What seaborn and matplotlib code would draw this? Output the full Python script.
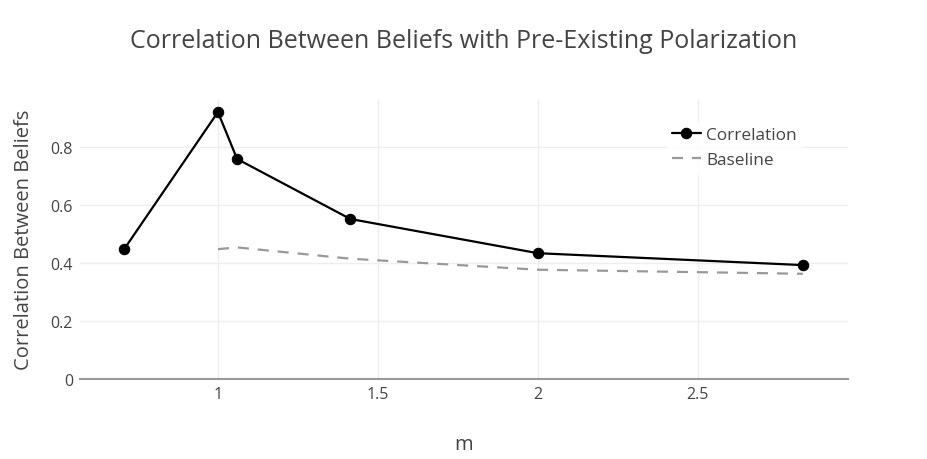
import numpy as np
import pandas as pd
import matplotlib
matplotlib.use('Agg')
import matplotlib.pyplot as plt
import seaborn as sns

# 값들 (그림에서 읽어낸 추정치)
m_corr = [0.707, 1.0, 1.06, 1.414, 2.0, 2.828]
corr = [0.448, 0.921, 0.759, 0.552, 0.434, 0.393]
m_base = [1.0, 1.06, 1.414, 2.0, 2.828]
base = [0.448, 0.454, 0.415, 0.377, 0.363]

corrdf = pd.DataFrame({'m': m_corr, 'value': corr})
basedf = pd.DataFrame({'m': m_base, 'value': base})

sns.set_style('white')
plt.rcParams['font.family'] = ['Open Sans', 'DejaVu Sans']
txt = '#444444'

fig = plt.figure(figsize=(9.28, 4.6), dpi=100)
ax = fig.add_axes([80/928, 80/460, 768/928, 280/460])

sns.lineplot(data=corrdf, x='m', y='value', ax=ax, color='black', lw=1.6,
             marker='o', markersize=7.5, markeredgecolor='black', label='Correlation')
sns.lineplot(data=basedf, x='m', y='value', ax=ax, color='#999999', lw=1.6,
             dashes=False, linestyle=(0, (5, 4)), label='Baseline')

ax.set_xlim(0.569, 2.969)
ax.set_ylim(0, 0.966)
ax.set_xticks([1, 1.5, 2, 2.5])
ax.set_xticklabels(['1', '1.5', '2', '2.5'])
ax.set_yticks([0, 0.2, 0.4, 0.6, 0.8])
ax.set_yticklabels(['0', '0.2', '0.4', '0.6', '0.8'])
ax.grid(True, color='#eeeeee', lw=1)
ax.set_axisbelow(True)
for s in ['top', 'right', 'left']:
    ax.spines[s].set_visible(False)
ax.spines['bottom'].set_color('#999999')
ax.spines['bottom'].set_linewidth(1.5)
ax.tick_params(axis='both', length=0, labelsize=11.5, labelcolor=txt, pad=5)

ax.set_xlabel('m', fontsize=14.5, color=txt, labelpad=23)
ax.set_ylabel('Correlation Between Beliefs', fontsize=14.5, color=txt, labelpad=12)
fig.suptitle('Correlation Between Beliefs with Pre-Existing Polarization',
             fontsize=18, color=txt, y=1 - 41/460, va='center')

leg = ax.legend(loc='upper left', bbox_to_anchor=(578/768, 1 - 14/280), frameon=True,
                fontsize=12.4, handlelength=1.7, handletextpad=0.3, labelspacing=0.55,
                borderpad=0.3, fancybox=False)
leg.get_frame().set_edgecolor('white')
leg.get_frame().set_facecolor('white')
for t in leg.get_texts():
    t.set_color(txt)

fig.savefig('out.png', dpi=100)
